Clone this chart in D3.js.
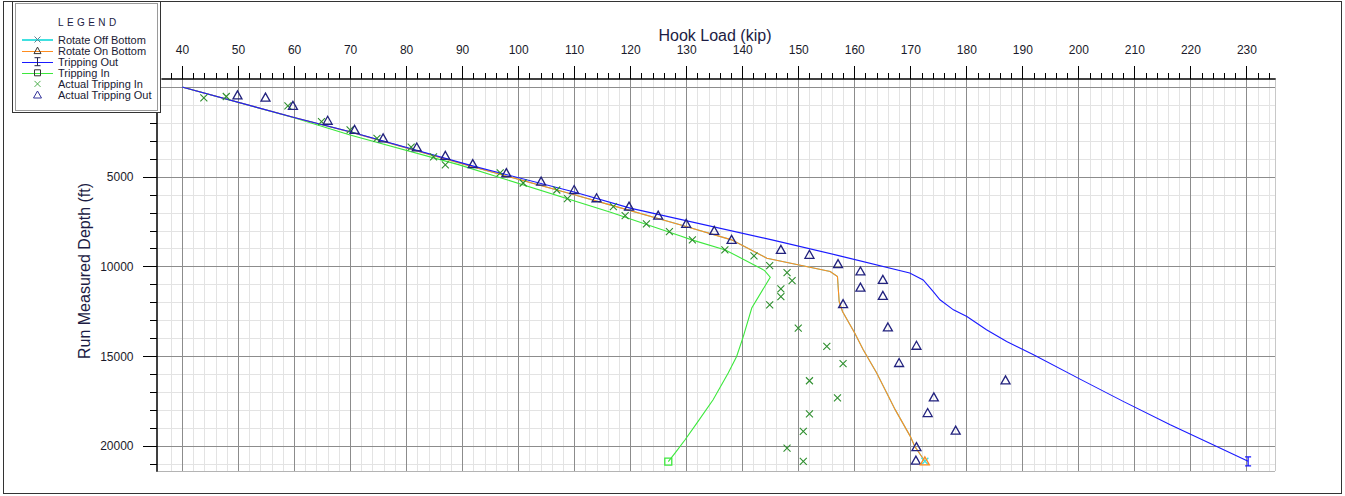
<!DOCTYPE html>
<html>
<head>
<meta charset="utf-8">
<script src="https://cdn.jsdelivr.net/npm/d3@7"></script>
<style>
    body { margin: 0; background: #fff; }
    svg { display: block; font-family: "Liberation Sans", Arial, sans-serif; }
</style>
</head>
<body>
<script>
// Hook load (kip) against run measured depth (ft)
var loadMajor = d3.range(40, 231, 10);
var depthMajor = [0, 5000, 10000, 15000, 20000];

// model curves
var rotOffLoad  = [40, 60, 70, 92, 110, 116.4, 128.9, 138.1, 144.4, 155.7, 157, 157.3, 157.9, 160.1, 161.6, 164, 165.8, 167.3, 170, 170.8, 172, 172.6];
var rotOffDepth = [0, 1700, 2500, 4450, 6000, 6570, 7680, 8520, 9540, 10280, 10560, 11950, 12510, 13720, 14640, 15940, 17050, 17980, 19470, 20030, 20580, 20860];
var rotOnLoad   = [40, 60, 70, 92, 110, 116.4, 128.9, 138.1, 144.4, 155.7, 157, 157.3, 157.9, 160.1, 161.6, 164, 165.8, 167.3, 170, 170.8, 172, 172.6];
var rotOnDepth  = [0, 1700, 2500, 4450, 6000, 6570, 7680, 8520, 9540, 10280, 10560, 11950, 12510, 13720, 14640, 15940, 17050, 17980, 19470, 20030, 20580, 20860];
var tripOutLoad  = [40, 60, 70, 92, 110, 120, 145.3, 157.4, 169.9, 172.3, 174.1, 175.3, 177.7, 180.1, 183.6, 187.2, 192, 200.3, 208, 216.4, 224.7, 230.3];
var tripOutDepth = [0, 1700, 2490, 4410, 5850, 6750, 8520, 9410, 10370, 10750, 11400, 11860, 12420, 12790, 13530, 14180, 14920, 16280, 17520, 18820, 20030, 20860];
var tripInLoad  = [40, 60, 70, 89.5, 116.5, 129, 131, 137, 144, 145, 141.7, 140.2, 139, 137.5, 134.8, 131.9, 129.8, 128, 126.8];
var tripInDepth = [0, 1710, 2670, 4340, 6980, 8300, 8520, 9080, 10230, 10600, 12320, 13900, 15020, 15940, 17430, 18730, 19660, 20400, 20880];

// field readings
var actInLoad  = [43.9, 47.9, 58.9, 64.9, 70.0, 74.8, 80.9, 84.9, 87.0, 96.8, 100.9, 106.9, 108.8, 117.0, 119.1, 122.9, 127.0, 131.1, 136.9, 142.1, 144.9, 148.0, 148.9, 146.9, 146.9, 144.9, 150.0, 155.1, 158.0, 152.0, 157.0, 152.0, 150.9, 148.0, 150.9];
var actInDepth = [610, 530, 1050, 1930, 2390, 2860, 3350, 3900, 4340, 4790, 5350, 5740, 6220, 6670, 7170, 7630, 8060, 8520, 9080, 9410, 9950, 10340, 10790, 11250, 11680, 12140, 13440, 14460, 15420, 16370, 17330, 18220, 19190, 20120, 20860];
var actOutLoad  = [49.9, 54.9, 59.8, 66.0, 70.8, 75.9, 81.9, 87.0, 91.9, 97.9, 104.1, 110.0, 114.0, 119.8, 125.0, 130.0, 135.0, 138.1, 146.9, 152.0, 157.1, 161.1, 165.1, 161.1, 165.1, 158.0, 166.0, 171.1, 168.0, 187.0, 174.2, 173.1, 178.1, 171.1, 171.0];
var actOutDepth = [470, 590, 1050, 1880, 2390, 2860, 3370, 3840, 4300, 4800, 5270, 5740, 6200, 6670, 7170, 7630, 8020, 8520, 9080, 9350, 9870, 10280, 10750, 11180, 11640, 12100, 13400, 14420, 15380, 16350, 17300, 18170, 19150, 20070, 20820];

var legendNames = ["Rotate Off Bottom", "Rotate On Bottom", "Tripping Out", "Tripping In", "Actual Tripping In", "Actual Tripping Out"];

function zip(a, b) { return a.map(function (v, i) { return [v, b[i]]; }); }

var W = 1345, H = 496;
var plot = { left: 161, right: 1275, top: 87, bottom: 471 };

var svg = d3.select("body").append("svg")
    .attr("width", W)
    .attr("height", H);

var x = d3.scaleLinear().domain([36.25, 235.1]).range([plot.left, plot.right]);
var y = d3.scaleLinear().domain([0, 21400]).range([plot.top, plot.bottom]);

// outer frame
svg.append("rect")
    .attr("x", 3.5).attr("y", 1.5)
    .attr("width", 1338).attr("height", 492)
    .attr("fill", "none").attr("stroke", "#333");

// ****************** grid ***************************
var grid = svg.append("g").attr("shape-rendering", "crispEdges");
var xMinor = d3.range(38, 235, 2).filter(function (d) { return d % 10 !== 0; });
var yMinor = d3.range(1000, 21400, 1000).filter(function (d) { return d % 5000 !== 0; });

grid.selectAll("line.vmin").data(xMinor).enter().append("line")
    .attr("x1", function (d) { return Math.round(x(d)) + 0.5; })
    .attr("x2", function (d) { return Math.round(x(d)) + 0.5; })
    .attr("y1", 78).attr("y2", plot.bottom)
    .attr("stroke", "#e3e3e3");
grid.selectAll("line.hmin").data(yMinor).enter().append("line")
    .attr("y1", function (d) { return Math.round(y(d)) + 0.5; })
    .attr("y2", function (d) { return Math.round(y(d)) + 0.5; })
    .attr("x1", 156).attr("x2", plot.right)
    .attr("stroke", "#e3e3e3");
grid.selectAll("line.vmaj").data(loadMajor).enter().append("line")
    .attr("x1", function (d) { return Math.round(x(d)) + 0.5; })
    .attr("x2", function (d) { return Math.round(x(d)) + 0.5; })
    .attr("y1", 78).attr("y2", plot.bottom)
    .attr("stroke", "#8c8c8c");
grid.selectAll("line.hmaj").data(depthMajor).enter().append("line")
    .attr("y1", function (d) { return Math.round(y(d)) + 0.5; })
    .attr("y2", function (d) { return Math.round(y(d)) + 0.5; })
    .attr("x1", 156).attr("x2", plot.right)
    .attr("stroke", "#8c8c8c");
// plot edges
grid.append("line").attr("x1", plot.right + 0.5).attr("x2", plot.right + 0.5)
    .attr("y1", 78).attr("y2", plot.bottom).attr("stroke", "#c8c8c8");
grid.append("line").attr("x1", 156).attr("x2", plot.right)
    .attr("y1", plot.bottom + 0.5).attr("y2", plot.bottom + 0.5).attr("stroke", "#b4b4b4");

// ****************** axes ***************************
var topAxis = svg.append("g").attr("transform", "translate(0,78.5)");
topAxis.call(d3.axisTop(x).tickValues(xMinor).tickSizeInner(6).tickSizeOuter(0).tickFormat(""));
topAxis.append("g").call(d3.axisTop(x).tickValues(loadMajor).tickSizeInner(13).tickSizeOuter(0).tickPadding(12).tickFormat(d3.format("d")));
topAxis.selectAll("text").attr("font-size", 12).attr("fill", "#1a1a2a")
    .attr("font-family", "'Liberation Sans', Arial, sans-serif");
topAxis.selectAll(".tick line").attr("shape-rendering", "crispEdges");

// the 0 label sits under the legend, so leave it blank
var leftAxis = svg.append("g").attr("transform", "translate(156.5,0)");
leftAxis.call(d3.axisLeft(y).tickValues(yMinor).tickSizeInner(7).tickSizeOuter(0).tickFormat(""));
leftAxis.append("g").call(d3.axisLeft(y).tickValues(depthMajor).tickSizeInner(14).tickSizeOuter(0).tickPadding(9)
    .tickFormat(function (d) { return d === 0 ? "" : d3.format("d")(d); }));
leftAxis.selectAll("text").attr("font-size", 12).attr("fill", "#1a1a2a")
    .attr("font-family", "'Liberation Sans', Arial, sans-serif");
leftAxis.selectAll(".tick line").attr("shape-rendering", "crispEdges");

svg.append("text")
    .attr("x", 715).attr("y", 41)
    .attr("text-anchor", "middle")
    .attr("font-size", 16)
    .attr("fill", "#1c1c44")
    .text("Hook Load (kip)");
svg.append("text")
    .attr("transform", "translate(90,271) rotate(-90)")
    .attr("text-anchor", "middle")
    .attr("font-size", 16)
    .attr("fill", "#1c1c44")
    .text("Run Measured Depth (ft)");

// ****************** series ***************************
var line = d3.line()
    .x(function (d) { return x(d[0]); })
    .y(function (d) { return y(d[1]); });

var curves = [
    { pts: zip(tripInLoad, tripInDepth), color: "#3ce83c" },
    { pts: zip(rotOffLoad, rotOffDepth), color: "#40e0e0" },
    { pts: zip(rotOnLoad, rotOnDepth), color: "#ff8c1f" },
    { pts: zip(tripOutLoad, tripOutDepth), color: "#1a1aff" }
];
svg.selectAll("path.curve").data(curves).enter().append("path")
    .attr("class", "curve")
    .attr("d", function (d) { return line(d.pts); })
    .attr("fill", "none")
    .attr("stroke", function (d) { return d.color; })
    .attr("stroke-width", 1.1);

var crossPath = "M-3.5,-3.5L3.5,3.5M-3.5,3.5L3.5,-3.5";
var triPath = "M0,-4.5L4.5,3.5L-4.5,3.5Z";
var squarePath = "M-3.5,-3.5H3.5V3.5H-3.5Z";
var beamPath = "M-3,-4.5H3M0,-4.5V4.5M-3,4.5H3";

svg.selectAll("path.actin").data(zip(actInLoad, actInDepth)).enter().append("path")
    .attr("class", "actin")
    .attr("transform", function (d) { return "translate(" + x(d[0]) + "," + y(d[1]) + ")"; })
    .attr("d", crossPath)
    .attr("fill", "none")
    .attr("stroke", "#2f8f2f")
    .attr("stroke-width", 1.1);

svg.selectAll("path.actout").data(zip(actOutLoad, actOutDepth)).enter().append("path")
    .attr("class", "actout")
    .attr("transform", function (d) { return "translate(" + x(d[0]) + "," + y(d[1]) + ")"; })
    .attr("d", triPath)
    .attr("fill", "none")
    .attr("stroke", "#22227e")
    .attr("stroke-width", 1.3);

// end markers of the model curves
function endMark(loads, depths, path, color) {
    var n = loads.length - 1;
    svg.append("path")
        .attr("transform", "translate(" + x(loads[n]) + "," + y(depths[n]) + ")")
        .attr("d", path)
        .attr("fill", "none")
        .attr("stroke", color)
        .attr("stroke-width", 1.3);
}
endMark(tripInLoad, tripInDepth, squarePath, "#3ce83c");
endMark(rotOffLoad, rotOffDepth, crossPath, "#40e0e0");
endMark(rotOnLoad, rotOnDepth, triPath, "#ff8c1f");
endMark(tripOutLoad, tripOutDepth, beamPath, "#1a1aff");

// ****************** legend ***************************
var lg = svg.append("g").attr("shape-rendering", "crispEdges");
lg.append("rect").attr("x", 12.5).attr("y", 1.5).attr("width", 148).attr("height", 111)
    .attr("fill", "#fff").attr("stroke", "#333");
lg.append("rect").attr("x", 15.5).attr("y", 3.5).attr("width", 142).attr("height", 107)
    .attr("fill", "#fff").attr("stroke", "#9a9a9a");
lg.append("text")
    .attr("x", 58).attr("y", 26)
    .attr("font-size", 10)
    .attr("letter-spacing", 3.4)
    .attr("fill", "#1c1c44")
    .text("LEGEND");

var legendSym = [
    { line: "#40e0e0", mark: "M-3,-3L3,3M-3,3L3,-3", mc: "#5f7f8f" },
    { line: "#ff8c1f", mark: "M0,-3.5L3.5,3L-3.5,3Z", mc: "#333" },
    { line: "#1a1aff", mark: "M-3,-4H3M0,-4V4M-3,4H3", mc: "#22224a" },
    { line: "#3ce83c", mark: "M-3,-3H3V3H-3Z", mc: "#333" },
    { line: null, mark: "M-3,-3L3,3M-3,3L3,-3", mc: "#4cae4c" },
    { line: null, mark: "M0,-4L4,3L-4,3Z", mc: "#33339a" }
];
var rows = lg.selectAll("g.row").data(legendNames).enter().append("g")
    .attr("class", "row")
    .attr("transform", function (d, i) { return "translate(0," + (39.5 + i * 11.1) + ")"; });
rows.each(function (d, i) {
    var g = d3.select(this), s = legendSym[i];
    if (s.line) {
        g.append("line").attr("x1", 22).attr("x2", 53).attr("y1", 0.5).attr("y2", 0.5)
            .attr("stroke", s.line).attr("stroke-width", s.line === "#40e0e0" ? 2 : 1);
    }
    g.append("path").attr("transform", "translate(37.5,0)").attr("d", s.mark)
        .attr("fill", "none").attr("stroke", s.mc).attr("shape-rendering", "auto");
    g.append("text").attr("x", 58).attr("y", 4).attr("font-size", 11)
        .attr("fill", "#1a1a33").text(d);
});
</script>
</body>
</html>
